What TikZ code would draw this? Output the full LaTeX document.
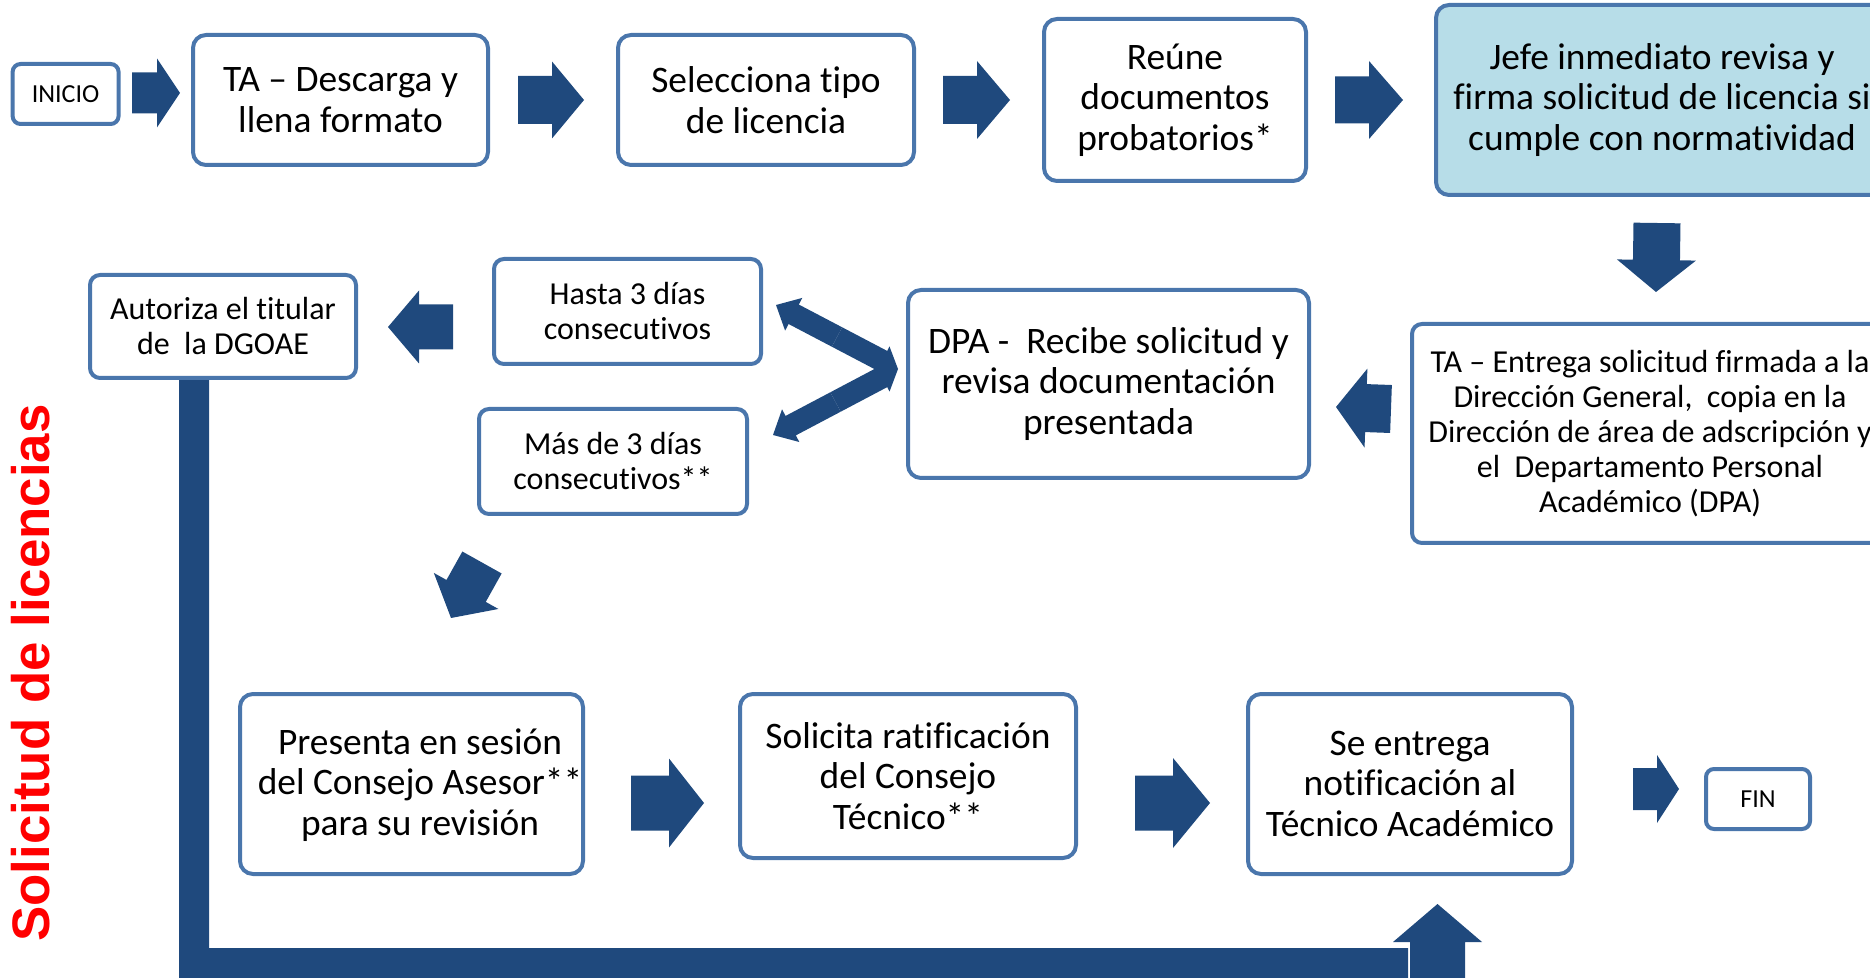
\documentclass[tikz,border=0pt]{standalone}
\usepackage{fontspec}
\setmainfont{Carlito}[Ligatures=NoCommon]
\newfontfamily\titlefont{Liberation Sans}
\usetikzlibrary{calc}
\definecolor{bordc}{RGB}{74,118,172}
\definecolor{arrc}{RGB}{31,73,125}
\definecolor{jefec}{RGB}{183,221,232}
% #1 start, #2 end, #3 half shaft, #4 half head, #5 head length
\newcommand\blockarr[5]{%
  \coordinate (bb) at ($(#2)!#5!(#1)$);
  \fill[arrc] ($(#1)!#3!90:(#2)$) -- ($(bb)!#3!90:(#2)$) -- ($(bb)!#4!90:(#2)$) -- (#2)
    -- ($(bb)!#4!-90:(#2)$) -- ($(bb)!#3!-90:(#2)$) -- ($(#1)!#3!-90:(#2)$) -- cycle;}
\begin{document}
\begin{tikzpicture}[x=0.5pt,y=-0.5pt,
  box/.style={draw=bordc, line width=2pt, rounded corners=6.5pt, fill=white, inner sep=0pt,
    align=center, font=\fontsize{18.7}{20.2}\selectfont},
  sbox/.style={box, rounded corners=5pt, font=\fontsize{16}{17.5}\selectfont},
  tbox/.style={box, rounded corners=4pt, font=\fontsize{13}{15}\selectfont}]
\useasboundingbox (0,0) rectangle (1870,978);

% L-shaped bar from Autoriza
\fill[arrc] (179,378) -- (209,378) -- (209,948) -- (1408,948) -- (1408,990) -- (179,990) -- cycle;

% nodes
\node[tbox, minimum width=53pt, minimum height=30pt] (inicio) at (65.6,94) {INICIO};
\node[box, minimum width=147.5pt, minimum height=65pt] (ta) at (340.5,100) {TA – Descarga y\\llena formato};
\node[box, minimum width=148pt, minimum height=65pt] (sel) at (766,100) {Selecciona tipo\\de licencia};
\node[box, minimum width=131pt, minimum height=81pt] (reune) at (1175,100) {Reúne\\documentos\\probatorios*};
\node[box, fill=jefec, minimum width=226pt, minimum height=95pt] (jefe) at (1662,100) {Jefe inmediato revisa y\\firma solicitud de licencia si\\cumple con normatividad};
\node[box, minimum width=200.5pt, minimum height=94pt] (dpa) at (1108.5,384) {DPA -\ \ Recibe solicitud y\\revisa documentación\\presentada};
\node[sbox, minimum width=238pt, minimum height=109.5pt] (tae) at (1650,433.5) {TA – Entrega solicitud firmada a la\\Dirección General,\ \ copia en la\\Dirección de área de adscripción y\\el\ \ Departamento Personal\\Académico (DPA)};
\node[sbox, minimum width=133pt, minimum height=51.5pt] (aut) at (223,326.5) {Autoriza el titular\\de\ \ la DGOAE};
\node[sbox, minimum width=133.5pt, minimum height=52.5pt] (hasta) at (627.5,311.5) {Hasta 3 días\\consecutivos};
\node[sbox, minimum width=134pt, minimum height=52.5pt] (mas) at (613,461.5) {Más de 3 días\\consecutivos**};
\node[box, minimum width=171.5pt, minimum height=90pt] (pres) at (411.5,784) {};
\node[align=center, inner sep=0pt, font=\fontsize{18.7}{20.2}\selectfont] (prest) at (420,785) {Presenta en sesión\\del Consejo Asesor**\\para su revisión};
\node[box, minimum width=168pt, minimum height=82pt] (sol) at (908,776) {Solicita ratificación\\del Consejo\\Técnico**};
\node[box, minimum width=162pt, minimum height=90pt] (ent) at (1410,784) {Se entrega\\notificación al\\Técnico Académico};
\node[tbox, minimum width=52pt, minimum height=30pt] (fin) at (1758,799) {FIN};

\node[rotate=90, text=red, inner sep=0pt, font=\titlefont\bfseries\fontsize{26.4}{30}\selectfont] (title) at (31,673) {Solicitud de licencias};

% block arrows
\coordinate (a1s) at (132,93);   \coordinate (a1e) at (180,93);
\coordinate (a2s) at (518,100);  \coordinate (a2e) at (584,100);
\coordinate (a3s) at (943,100);  \coordinate (a3e) at (1010,100);
\coordinate (a4s) at (1335,100); \coordinate (a4e) at (1403,100);
\coordinate (a5s) at (1657,223); \coordinate (a5e) at (1656,292);
\coordinate (a6s) at (1391,409); \coordinate (a6e) at (1336,407);
\coordinate (a7s) at (453,327);  \coordinate (a7e) at (388,327);
\coordinate (a8s) at (482,562.5); \coordinate (a8e) at (451,618);
\coordinate (a9s) at (631,803);  \coordinate (a9e) at (704,803);
\coordinate (a10s) at (1135,803); \coordinate (a10e) at (1210,803);
\coordinate (a11s) at (1633,789); \coordinate (a11e) at (1679,789);
\coordinate (a12s) at (1437.5,990); \coordinate (a12e) at (1437.5,904);
\coordinate (cv) at (898,369);
\coordinate (cu) at (776,305);
\coordinate (cd) at (773,435);
\coordinate (cmu) at ($(cv)!0.5!(cu)$);
\coordinate (cmd) at ($(cv)!0.5!(cd)$);

\blockarr{a1s}{a1e}{10.25pt}{17.25pt}{11.5pt}
\blockarr{a2s}{a2e}{12pt}{19.25pt}{16pt}
\blockarr{a3s}{a3e}{12pt}{19.5pt}{16.5pt}
\blockarr{a4s}{a4e}{11.75pt}{19.5pt}{17pt}
\blockarr{a5s}{a5e}{11.75pt}{19.75pt}{16pt}
\blockarr{a6s}{a6e}{12pt}{19.75pt}{15pt}
\blockarr{a7s}{a7e}{11.25pt}{18.25pt}{15.5pt}
\blockarr{a8s}{a8e}{11.25pt}{18.5pt}{15.5pt}
\blockarr{a9s}{a9e}{13.75pt}{22.25pt}{17.5pt}
\blockarr{a10s}{a10e}{13.75pt}{22.5pt}{18.5pt}
\blockarr{a11s}{a11e}{10.5pt}{17pt}{11pt}
\blockarr{a12s}{a12e}{13.75pt}{22.25pt}{19pt}
\blockarr{cmu}{cu}{5.5pt}{9.25pt}{10pt}
\blockarr{cmu}{cv}{5.5pt}{8pt}{9pt}
\blockarr{cmd}{cd}{5.5pt}{9.25pt}{10pt}
\blockarr{cmd}{cv}{5.5pt}{8pt}{9pt}
\end{tikzpicture}
\end{document}
